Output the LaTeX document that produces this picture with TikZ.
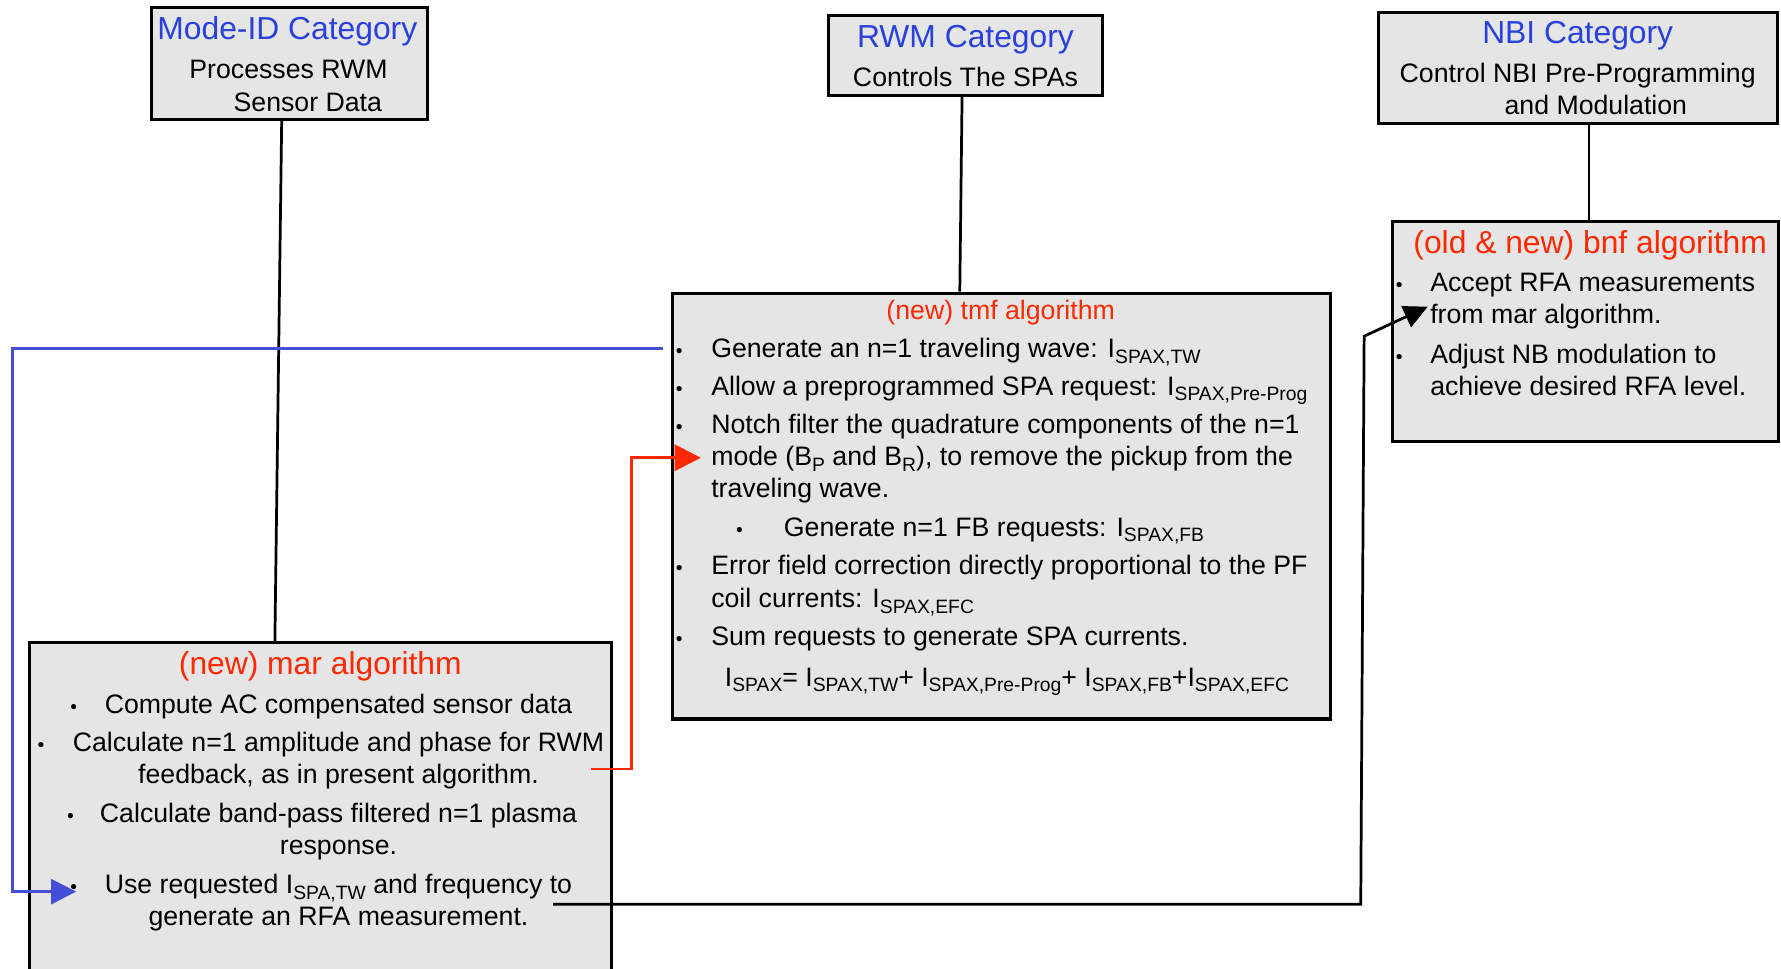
\documentclass[tikz,border=0pt]{standalone}
\usepackage{fontspec}
\setmainfont{Liberation Sans}
\usetikzlibrary{arrows.meta}
\definecolor{titleblue}{RGB}{40,64,220}
\definecolor{algred}{RGB}{255,40,0}
\definecolor{linkblue}{RGB}{66,78,214}
\definecolor{boxgray}{RGB}{229,229,229}
\newcommand\sbs[1]{\raisebox{-0.38ex}{\fontsize{17}{17}\selectfont #1}}
\begin{document}
\begin{tikzpicture}[x=1pt,y=-1pt,
 catbox/.style={draw=black, line width=2.7pt, fill=boxgray, inner sep=0pt},
 body/.style={font=\fontsize{23.5}{28}\selectfont, inner sep=0pt, anchor=base},
 bodyl/.style={body, anchor=base west},
 bul/.style={font=\fontsize{17}{17}\selectfont, inner sep=0pt, anchor=base},
 ttl/.style={font=\fontsize{28}{32}\selectfont, text=titleblue, inner sep=0pt, anchor=base},
 alg/.style={font=\fontsize{28}{32}\selectfont, text=algred, inner sep=0pt, anchor=base},
 algs/.style={font=\fontsize{23.5}{28}\selectfont, text=algred, inner sep=0pt, anchor=base},
 conn/.style={line width=2.4pt}
]
\useasboundingbox (0,0) rectangle (1568,853);
\clip (0,0) rectangle (1568,853);
\fill[white] (0,0) rectangle (1568,853);

% boxes
\node[catbox, minimum width=243pt, minimum height=98pt] (modeid) at (254.5,56) {};
\node[catbox, minimum width=242pt, minimum height=70pt] (rwm) at (850,49) {};
\node[catbox, minimum width=351pt, minimum height=98pt] (nbi) at (1389.5,60) {};
\node[catbox, minimum width=340pt, minimum height=194pt] (bnf) at (1396,292) {};
\node[catbox, minimum width=579pt, minimum height=375pt] (tmf) at (881.5,445.5) {};
\node[catbox, minimum width=512pt, minimum height=304pt] (mar) at (282,718) {};

% vertical links
\draw[conn] ([xshift=-6.5pt]modeid.south) -- ([xshift=-40pt]mar.north);
\draw[conn] ([xshift=-3pt]rwm.south) -- ([xshift=-36.5pt]tmf.north);
\draw[conn] ([xshift=9.5pt]nbi.south) -- ([xshift=3pt]bnf.north);

% category texts
\node[ttl] (t1) at (253,35) {Mode-ID Category};
\node[body] (t1a) at (254,69) {Processes RWM};
\node[body] (t1b) at (271,98) {Sensor Data};
\node[ttl] (t2) at (850,42) {RWM Category};
\node[body] (t2a) at (850,76) {Controls The SPAs};
\node[ttl] (t3) at (1389,38) {NBI Category};
\node[body] (t3a) at (1389,73) {Control NBI Pre-Programming};
\node[body] (t3b) at (1405,101) {and Modulation};

% bnf
\node[alg] (h3) at (1400,223) {(old \& new) bnf algorithm};
\node[bul] (bb1) at (1232,257) {\textbullet};
\node[bodyl] (b1) at (1259,257) {Accept RFA measurements};
\node[bodyl] (b2) at (1259,285) {from mar algorithm.};
\node[bul] (bb2) at (1232,320) {\textbullet};
\node[bodyl] (b3) at (1259,320) {Adjust NB modulation to};
\node[bodyl] (b4) at (1259,348) {achieve desired RFA level.};

% tmf
\node[algs] (h2) at (881,281) {(new) tmf algorithm};
\node[bul] (tb1) at (598,315) {\textbullet};
\node[bodyl] (m1) at (626,315) {Generate an n=1 traveling wave: I\sbs{SPAX,TW}};
\node[bul] (tb2) at (598,348) {\textbullet};
\node[bodyl] (m2) at (626,348) {Allow a preprogrammed SPA request: I\sbs{SPAX,Pre-Prog}};
\node[bul] (tb3) at (598,382) {\textbullet};
\node[bodyl] (m3) at (626,382) {Notch filter the quadrature components of the n=1};
\node[bodyl] (m4) at (626,410) {mode (B\sbs{P} and B\sbs{R}), to remove the pickup from the};
\node[bodyl] (m5) at (626,438) {traveling wave.};
\node[bul] (tb4) at (651,472) {\textbullet};
\node[bodyl] (m6) at (690,472) {Generate n=1 FB requests: I\sbs{SPAX,FB}};
\node[bul] (tb5) at (598,506) {\textbullet};
\node[bodyl] (m7) at (626,506) {Error field correction directly proportional to the PF};
\node[bodyl] (m8) at (626,535) {coil currents: I\sbs{SPAX,EFC}};
\node[bul] (tb6) at (598,568) {\textbullet};
\node[bodyl] (m9) at (626,568) {Sum requests to generate SPA currents.};
\node[bodyl] (m10) at (638,604) {I\sbs{SPAX}= I\sbs{SPAX,TW}+ I\sbs{SPAX,Pre-Prog}+ I\sbs{SPAX,FB}+I\sbs{SPAX,EFC}};

% mar
\node[alg] (h1) at (282,594) {(new) mar algorithm};
\node[bul] (mb1) at (65,628) {\textbullet};
\node[body] (a1) at (298,628) {Compute AC compensated sensor data};
\node[bul] (mb2) at (36,662) {\textbullet};
\node[body] (a2) at (298,662) {Calculate n=1 amplitude and phase for RWM};
\node[body] (a3) at (298,690) {feedback, as in present algorithm.};
\node[bul] (mb3) at (62,724) {\textbullet};
\node[body] (a4) at (298,724) {Calculate band-pass filtered n=1 plasma};
\node[body] (a5) at (298,752) {response.};
\node[bul] (mb4) at (65,787) {\textbullet};
\node[body] (a6) at (298,787) {Use requested I\sbs{SPA,TW} and frequency to};
\node[body] (a7) at (298,815) {generate an RFA measurement.};

% connectors
\coordinate (bs) at (584,307);
\coordinate (bc1) at (11,307);
\coordinate (bc2) at (11,785);
\coordinate (be) at (67,785);
\draw[conn, linkblue, -{Triangle[length=22pt,width=22pt]}] (bs) -- (bc1) -- (bc2) -- (be);

\coordinate (rs) at (520,677);
\coordinate (rc1) at (556,677);
\coordinate (rc2) at (556,403);
\coordinate (re) at (617,403);
\draw[conn, algred, -{Triangle[length=23pt,width=23pt]}] (rs) -- (rc1) -- (rc2) -- (re);

\coordinate (ks) at (487,796);
\coordinate (kc1) at (1198,796);
\coordinate (kc2) at (1201,296);
\coordinate (ke) at (1257,270);
\draw[conn, black, -{Triangle[length=21pt,width=20pt]}] (ks) -- (kc1) -- (kc2) -- (ke);
\end{tikzpicture}
\end{document}
